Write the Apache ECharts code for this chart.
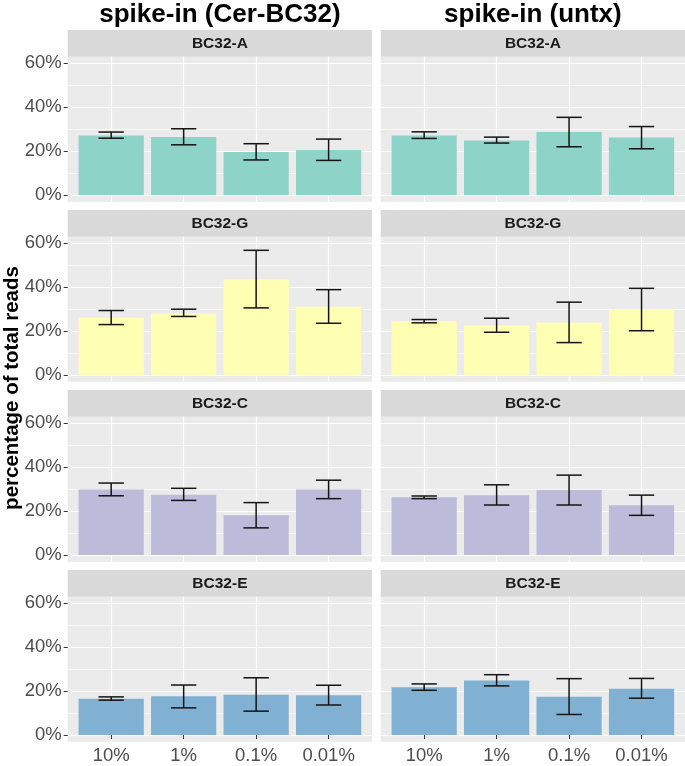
<!DOCTYPE html>
<html>
<head>
<meta charset="utf-8">
<script src="https://cdn.jsdelivr.net/npm/echarts@6/dist/echarts.min.js"></script>
<style>
html,body{margin:0;padding:0;background:#fff;}
#chart{width:685px;height:766px;}
</style>
</head>
<body>
<div id="chart"></div>
<script>
// ---- data ----
const categories = ['10%', '1%', '0.1%', '0.01%'];
const columnTitles = ['spike-in (Cer-BC32)', 'spike-in (untx)'];
const panelNames = ['BC32-A', 'BC32-G', 'BC32-C', 'BC32-E'];
const yTicks = [0, 20, 40, 60];
const yMinorTicks = [10, 30, 50];
const yTitle = 'percentage of total reads';

// spike-in (Cer-BC32)
const cerA_mean = [27.1, 26.4, 19.6, 20.5];
const cerA_low  = [25.9, 22.9, 16.0, 15.8];
const cerA_high = [28.7, 30.2, 23.4, 25.5];
const cerG_mean = [26.1, 28.0, 43.6, 31.1];
const cerG_low  = [23.0, 26.7, 30.6, 23.6];
const cerG_high = [29.4, 30.0, 56.8, 38.9];
const cerC_mean = [29.9, 27.5, 18.1, 29.9];
const cerC_low  = [27.0, 24.9, 12.4, 25.7];
const cerC_high = [32.8, 30.4, 23.9, 34.1];
const cerE_mean = [16.6, 17.7, 18.4, 18.1];
const cerE_low  = [15.9, 12.4, 10.9, 13.7];
const cerE_high = [17.4, 22.8, 26.1, 22.7];

// spike-in (untx)
const untxA_mean = [27.1, 24.9, 28.7, 26.2];
const untxA_low  = [25.8, 23.7, 22.0, 21.1];
const untxA_high = [28.8, 26.4, 35.4, 31.2];
const untxG_mean = [24.5, 22.6, 23.8, 29.7];
const untxG_low  = [23.8, 19.5, 14.8, 20.2];
const untxG_high = [25.3, 25.9, 33.2, 39.5];
const untxC_mean = [26.3, 27.3, 29.6, 22.7];
const untxC_low  = [25.7, 22.8, 22.8, 18.1];
const untxC_high = [26.9, 32.0, 36.4, 27.3];
const untxE_mean = [21.8, 24.9, 17.5, 21.1];
const untxE_low  = [20.4, 22.4, 9.4, 16.8];
const untxE_high = [23.3, 27.5, 25.7, 25.8];

// ---- layout / style ----
const panelColors = ['#8DD3C7', '#FFFFB3', '#BEBADA', '#80B1D3'];
const FONT = '"Liberation Sans", Arial, sans-serif';
const colLeft = [67.7, 380.7];
const colWidth = 304.4;
const rowTop = [30, 210, 390, 570];
const stripH = 26.7;
const panelH = 145;

const panels = [
  [[cerA_mean, cerA_low, cerA_high], [untxA_mean, untxA_low, untxA_high]],
  [[cerG_mean, cerG_low, cerG_high], [untxG_mean, untxG_low, untxG_high]],
  [[cerC_mean, cerC_low, cerC_high], [untxC_mean, untxC_low, untxC_high]],
  [[cerE_mean, cerE_low, cerE_high], [untxE_mean, untxE_low, untxE_high]]
];

const grids = [], xAxes = [], yAxes = [], series = [], graphics = [];
const catPos = categories.map((c, i) => i + 1);

for (let r = 0; r < 4; r++) {
  for (let c = 0; c < 2; c++) {
    const gi = grids.length;
    const isBottom = r === 3, isLeft = c === 0;
    grids.push({
      left: colLeft[c], width: colWidth, top: rowTop[r] + stripH, height: panelH,
      show: true, backgroundColor: '#EBEBEB', borderWidth: 0, containLabel: false
    });
    xAxes.push({
      gridIndex: gi, type: 'value', min: 0.4, max: 4.6,
      axisLine: { show: false },
      axisTick: { show: isBottom, customValues: catPos, length: 4, lineStyle: { color: '#333333', width: 1 } },
      axisLabel: { show: isBottom, customValues: catPos, formatter: v => categories[Math.round(v) - 1],
        fontFamily: FONT, fontSize: 18.5, color: '#4D4D4D', margin: 5 },
      splitLine: { show: true, lineStyle: { color: '#FFFFFF', width: 1.2 } }
    });
    yAxes.push({
      gridIndex: gi, type: 'value', min: -3, max: 63, position: 'left',
      axisLine: { show: false },
      axisTick: { show: isLeft, customValues: yTicks, length: 4, lineStyle: { color: '#333333', width: 1 } },
      axisLabel: { show: isLeft, customValues: yTicks, formatter: '{value}%',
        fontFamily: FONT, fontSize: 18.5, color: '#4D4D4D', margin: 6 },
      splitLine: { show: true, lineStyle: { color: '#FFFFFF', width: 1.2 } }
    });
    yAxes.push({
      gridIndex: gi, type: 'value', min: -3, max: 63, position: 'left',
      axisLine: { show: false },
      axisTick: { show: false, customValues: yMinorTicks },
      axisLabel: { show: false, customValues: yMinorTicks },
      splitLine: { show: true, lineStyle: { color: '#FFFFFF', width: 0.6 } }
    });
    const [mean, low, high] = panels[r][c];
    const color = panelColors[r];
    series.push({
      type: 'custom', xAxisIndex: gi, yAxisIndex: 2 * gi, clip: false,
      data: mean.map((v, i) => [catPos[i], v, low[i], high[i]]),
      renderItem: function (params, api) {
        const x = api.value(0), v = api.value(1), lo = api.value(2), hi = api.value(3);
        const base = api.coord([x, 0]);
        const top = api.coord([x, v]);
        const pLo = api.coord([x, lo]);
        const pHi = api.coord([x, hi]);
        const bw = api.size([0.9, 0])[0];
        const cw = api.size([0.35, 0])[0];
        const ls = { stroke: '#141414', lineWidth: 1.5 };
        return {
          type: 'group',
          children: [
            { type: 'rect', shape: { x: base[0] - bw / 2, y: top[1], width: bw, height: base[1] - top[1] },
              style: { fill: color } },
            { type: 'line', shape: { x1: pLo[0], y1: pLo[1], x2: pHi[0], y2: pHi[1] }, style: ls },
            { type: 'line', shape: { x1: pHi[0] - cw / 2, y1: pHi[1], x2: pHi[0] + cw / 2, y2: pHi[1] }, style: ls },
            { type: 'line', shape: { x1: pLo[0] - cw / 2, y1: pLo[1], x2: pLo[0] + cw / 2, y2: pLo[1] }, style: ls }
          ]
        };
      }
    });
    // strip
    graphics.push({
      type: 'rect', left: colLeft[c], top: rowTop[r],
      shape: { width: colWidth, height: stripH }, style: { fill: '#D9D9D9' }, silent: true
    });
    graphics.push({
      type: 'text', x: colLeft[c] + colWidth / 2, y: rowTop[r] + stripH / 2 + 0.5,
      style: { text: panelNames[r], font: 'bold 15.5px ' + FONT, fill: '#1A1A1A', align: 'center', verticalAlign: 'middle' },
      silent: true
    });
  }
}

// column titles
for (let c = 0; c < 2; c++) {
  graphics.push({
    type: 'text', x: colLeft[c] + colWidth / 2, y: 15,
    style: { text: columnTitles[c], font: 'bold 26px ' + FONT, fill: '#000000', align: 'center', verticalAlign: 'middle' },
    silent: true
  });
}
// y axis title
graphics.push({
  type: 'text', x: 12, y: 388, rotation: Math.PI / 2,
  style: { text: yTitle, font: 'bold 20.5px ' + FONT, fill: '#000000', align: 'center', verticalAlign: 'middle' },
  silent: true
});

const chart = echarts.init(document.getElementById('chart'), null, { renderer: 'canvas' });
chart.setOption({
  animation: false,
  backgroundColor: '#FFFFFF',
  grid: grids,
  xAxis: xAxes,
  yAxis: yAxes,
  series: series,
  graphic: graphics
});
</script>
</body>
</html>
